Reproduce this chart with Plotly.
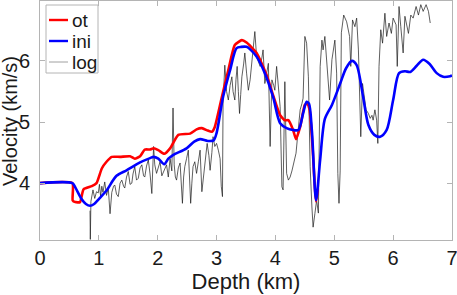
import plotly.graph_objects as go

# ---- data ----
ini_depth = [0, 0.55, 0.6, 0.7, 0.78, 0.85, 0.92, 1.0, 1.13, 1.30, 1.47, 1.70, 1.87, 1.93, 2.01, 2.11,
             2.18, 2.26, 2.49, 2.62, 2.72, 2.85, 2.95, 3.0, 3.11, 3.23, 3.34, 3.42, 3.51, 3.58, 3.68,
             3.82, 3.96, 4.08, 4.19, 4.30, 4.39, 4.47, 4.53, 4.57, 4.62, 4.69, 4.76, 4.84, 4.96, 5.10,
             5.20, 5.30, 5.38, 5.49, 5.58, 5.68, 5.78, 5.89, 6.0, 6.10, 6.20, 6.29, 6.40, 6.51, 6.62,
             6.74, 6.85, 6.97, 7.0]
ini_vel = [4.0, 4.0, 3.93, 3.75, 3.66, 3.63, 3.66, 3.74, 3.88, 4.12, 4.21, 4.34, 4.41, 4.43, 4.40, 4.31,
           4.40, 4.46, 4.57, 4.68, 4.72, 4.69, 4.70, 4.82, 5.41, 5.85, 6.21, 6.23, 6.23, 6.18, 6.07,
           5.80, 5.41, 4.98, 4.90, 4.87, 4.87, 5.14, 5.33, 5.30, 4.85, 3.72, 4.38, 5.05, 5.28, 5.63,
           5.88, 6.00, 5.93, 5.41, 4.95, 4.79, 4.76, 4.87, 5.36, 5.80, 5.83, 5.82, 5.92, 6.02, 5.95,
           5.80, 5.74, 5.75, 5.76]

ot_depth = [0, 0.55, 0.555, 0.6, 0.68, 0.74, 0.88, 0.96, 1.05, 1.13, 1.22, 1.36, 1.53, 1.61, 1.70,
            1.78, 1.87, 1.93, 2.01, 2.11, 2.21, 2.35, 2.55, 2.66, 2.75, 2.85, 2.92, 2.97, 3.09, 3.20,
            3.31, 3.43, 3.51, 3.68, 3.85, 3.96, 4.08, 4.16, 4.22, 4.30, 4.35, 4.42, 4.50, 4.54, 4.58,
            4.63, 4.69, 4.72]
ot_vel = [4.0, 4.0, 3.72, 3.69, 3.69, 3.90, 3.95, 4.0, 4.24, 4.35, 4.43, 4.43, 4.44, 4.40, 4.44,
          4.55, 4.55, 4.57, 4.54, 4.48, 4.57, 4.79, 4.81, 4.88, 4.90, 4.86, 4.84, 4.92, 5.41, 5.85,
          6.26, 6.34, 6.30, 6.13, 5.77, 5.44, 5.11, 5.03, 5.03, 4.87, 4.72, 4.92, 5.28, 5.30, 5.20,
          4.60, 3.70, 3.90]

log_depth = [0.850, 0.855, 0.865, 0.88, 0.90, 0.93, 0.96, 0.99, 1.01, 1.03, 1.05, 1.07, 1.10, 1.13,
             1.16, 1.19, 1.22, 1.25, 1.27, 1.30, 1.33, 1.36, 1.39, 1.42, 1.44, 1.47, 1.50, 1.53, 1.56,
             1.58, 1.61, 1.64, 1.67, 1.70, 1.73, 1.76, 1.78, 1.81, 1.84, 1.87, 1.90, 1.93, 1.95, 1.98,
             2.01, 2.04, 2.07, 2.10, 2.13, 2.15, 2.18, 2.21, 2.24, 2.26, 2.28, 2.30, 2.32, 2.35, 2.38,
             2.40, 2.42, 2.44, 2.46, 2.49, 2.52, 2.54, 2.56, 2.58, 2.60, 2.63, 2.66, 2.69, 2.72, 2.75,
             2.78, 2.80, 2.84, 2.87, 2.89, 2.92, 2.94, 2.97, 3.00, 3.03, 3.06, 3.08, 3.10, 3.11, 3.14,
             3.17, 3.20, 3.23, 3.26, 3.28, 3.31, 3.33, 3.35, 3.37, 3.39, 3.41, 3.43, 3.46, 3.48, 3.51,
             3.54, 3.57, 3.60, 3.62, 3.65, 3.68, 3.71, 3.74, 3.77, 3.79, 3.82, 3.85, 3.88, 3.91, 3.94,
             3.97, 3.99, 4.02, 4.05, 4.08, 4.11, 4.13, 4.16, 4.19, 4.22, 4.25, 4.28, 4.30, 4.33, 4.35,
             4.38, 4.42, 4.45, 4.47, 4.50, 4.53, 4.56, 4.59, 4.62, 4.64, 4.67, 4.70, 4.73, 4.76, 4.79,
             4.81, 4.84, 4.88, 4.92, 4.96, 5.01, 5.04, 5.06, 5.08, 5.10, 5.12, 5.16, 5.21, 5.26, 5.28,
             5.31, 5.35, 5.38, 5.41, 5.44, 5.45, 5.48, 5.51, 5.54, 5.58, 5.61, 5.64, 5.66, 5.69, 5.72,
             5.74, 5.76, 5.79, 5.82, 5.86, 5.89, 5.93, 5.97, 6.00, 6.05, 6.07, 6.10, 6.13, 6.17, 6.20,
             6.26, 6.30, 6.34, 6.39, 6.43, 6.47, 6.51, 6.56, 6.60, 6.63]
log_vel = [3.55, 3.08, 3.70, 3.80, 3.89, 3.75, 3.86, 3.84, 3.98, 3.78, 3.95, 3.85, 4.02, 3.80,
           3.92, 3.50, 3.85, 3.95, 3.97, 3.82, 3.78, 4.00, 4.05, 3.95, 3.92, 4.10, 4.19, 3.98, 4.00,
           4.15, 4.27, 4.05, 4.08, 4.25, 4.30, 4.12, 4.10, 4.28, 4.38, 4.15, 3.83, 4.60, 4.30, 4.16,
           4.28, 4.35, 4.12, 4.19, 4.25, 4.30, 4.10, 4.40, 4.20, 5.23, 4.30, 4.10, 4.05, 4.25, 4.33,
           4.00, 3.67, 4.10, 4.27, 4.40, 4.54, 4.10, 3.67, 4.00, 4.27, 4.35, 4.16, 4.35, 4.54, 3.86,
           4.10, 4.32, 4.65, 4.45, 4.21, 4.50, 4.76, 4.60, 4.65, 4.54, 4.40, 3.95, 3.78, 5.31, 5.93,
           5.50, 5.36, 5.60, 5.74, 5.50, 5.36, 5.70, 5.91, 5.50, 5.14, 5.45, 5.74, 5.95, 6.13, 5.80,
           5.52, 5.69, 6.00, 6.29, 6.48, 6.07, 6.00, 5.91, 6.05, 6.18, 5.63, 5.80, 5.96, 4.60, 5.69,
           5.60, 5.52, 5.91, 5.60, 5.25, 3.94, 3.89, 5.66, 4.16, 4.05, 4.10, 4.20, 4.27, 4.40, 4.49,
           4.80, 5.20, 5.30, 5.39, 6.40, 6.29, 5.74, 4.27, 3.61, 3.28, 3.50, 3.72, 3.51, 5.91, 6.34,
           6.18, 6.40, 5.91, 5.36, 6.02, 6.34, 5.80, 4.16, 3.67, 4.20, 6.46, 6.75, 6.64, 6.40, 5.91,
           6.67, 6.56, 6.70, 6.18, 4.92, 4.76, 5.63, 5.36, 5.20, 5.14, 5.06, 5.11, 5.03, 5.20, 5.03,
           4.65, 5.91, 6.51, 6.29, 6.78, 6.40, 6.62, 6.45, 6.70, 6.59, 5.91, 6.89, 6.56, 6.13, 6.73,
           6.45, 6.75, 6.70, 6.89, 6.75, 6.92, 6.81, 6.92, 6.81, 6.62]

x_ticks = [0, 1, 2, 3, 4, 5, 6, 7]
y_ticks = [4, 5, 6]

legend_names = ["ot", "ini", "log"]
legend_colors = ["#ff0000", "#0000ff", "#a0a0a0"]
legend_widths = [2.4, 2.4, 1.0]

FONT = "Liberation Sans, Arial, sans-serif"
FRAME = "#b4b4b4"
TXT = "#1a1a1a"

fig = go.Figure()
fig.add_trace(go.Scatter(x=log_depth, y=log_vel, mode="lines", name="log",
                         line=dict(color="#1a1a1a", width=0.7), showlegend=False))
fig.add_trace(go.Scatter(x=ot_depth, y=ot_vel, mode="lines", name="ot",
                         line=dict(color="#ff0000", width=2.6, shape="spline", smoothing=0.5),
                         showlegend=False))
fig.add_trace(go.Scatter(x=ini_depth, y=ini_vel, mode="lines", name="ini",
                         line=dict(color="#0000ff", width=2.6, shape="spline", smoothing=0.8),
                         showlegend=False))

# plot area in pixels: x 40..452, y 1..240
def px_x(p):
    return (p - 40) / 412.0

def px_y(p):
    return (240 - p) / 239.0

shapes = [dict(type="rect", xref="paper", yref="paper",
               x0=px_x(46), x1=px_x(98), y0=px_y(73), y1=px_y(5),
               line=dict(color=FRAME, width=1), fillcolor="white", layer="above")]
annotations = []
for i, (nm, col, w) in enumerate(zip(legend_names, legend_colors, legend_widths)):
    yy = px_y(20 + 21 * i)
    shapes.append(dict(type="line", xref="paper", yref="paper",
                       x0=px_x(49), x1=px_x(68), y0=yy, y1=yy,
                       line=dict(color=col, width=w), layer="above"))
    annotations.append(dict(text=nm, xref="paper", yref="paper", x=px_x(69.5), y=yy,
                            xanchor="left", yanchor="middle", showarrow=False,
                            font=dict(family=FONT, size=19, color=TXT)))

# y-axis title placed explicitly in the left margin
annotations.append(dict(text="Velocity (km/s)", xref="paper", yref="paper",
                        x=px_x(10), y=px_y(121), xanchor="center", yanchor="middle",
                        textangle=-90, showarrow=False,
                        font=dict(family=FONT, size=20, color=TXT)))

axis_common = dict(showgrid=False, zeroline=False, showline=True, linecolor=FRAME, linewidth=1,
                   mirror="ticks", ticks="inside", ticklen=5, tickcolor=FRAME, tickwidth=1,
                   tickfont=dict(family=FONT, size=20, color=TXT), ticklabeloverflow="allow")

fig.update_layout(
    width=457, height=295,
    margin=dict(l=40, r=5, t=1, b=55, autoexpand=False),
    paper_bgcolor="white", plot_bgcolor="white",
    font=dict(family=FONT, size=20, color=TXT),
    showlegend=False,
    shapes=shapes, annotations=annotations,
    xaxis=dict(axis_common, range=[0, 7], tickvals=x_ticks, ticktext=[str(t) for t in x_ticks],
               title=dict(text="Depth (km)", standoff=4, font=dict(family=FONT, size=22)),
               ticklabelstandoff=0, automargin=False),
    yaxis=dict(axis_common, range=[3.07, 6.98], tickvals=y_ticks, ticktext=[str(t) for t in y_ticks],
               ticklabelstandoff=5, automargin=False),
)

fig.write_html("out.html", config={"displayModeBar": False},
               post_script="document.body.style.margin='0';document.body.style.padding='0';")
